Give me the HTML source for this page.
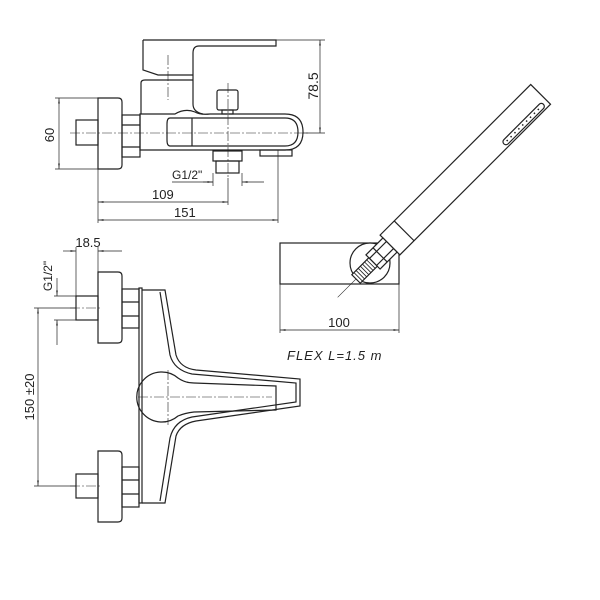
<!DOCTYPE html>
<html><head><style>html,body{margin:0;padding:0;background:#fff}svg{display:block}</style></head>
<body>
<svg width="600" height="600" viewBox="0 0 600 600" xmlns="http://www.w3.org/2000/svg" font-family="Liberation Sans, sans-serif">
<defs>
<marker id="a" viewBox="0 0 10 6" refX="10" refY="3" markerWidth="8" markerHeight="5" orient="auto-start-reverse"><path d="M0,1.5 L10,3 L0,4.5z" fill="#222"/></marker>
</defs>
<g fill="none" stroke="#222" stroke-width="1.2">
<path d="M98,98 H118 Q122,98 122,102 V165 Q122,169 118,169 H98 Z"/>
<rect x="76" y="120" width="22" height="25"/>
<rect x="122" y="115" width="18" height="42"/>
<line x1="122" y1="125" x2="140" y2="125"/><line x1="122" y1="147" x2="140" y2="147"/>
<path d="M143,40 H276 V46 H199 Q193,46 193,53 V104 Q193,112 203,114"/>
<path d="M143,40 V70 L158,75 H193"/>
<path d="M141,114 V83 Q141,80 145,80 H193"/>
<path d="M140,114 H175 Q185,108 195,112 Q200,115 210,114 H285 Q303,114 303,132 Q303,150 285,150 H140 Z"/>
<path d="M170,118 H285 Q298,118 298,132 Q298,146 285,146 H170 Q167,146 167,140 V124 Q167,118 170,118"/>
<line x1="192" y1="118" x2="192" y2="146"/>
<rect x="217" y="90" width="21" height="20" rx="2"/>
<rect x="222" y="110" width="11" height="4"/>
<rect x="213" y="151" width="29" height="10"/><rect x="216" y="161" width="23" height="12"/>
<rect x="260" y="150" width="32" height="6"/>
<g stroke-width="0.6" stroke-dasharray="10,2,2,2">
<line x1="168" y1="55" x2="168" y2="100"/><line x1="228" y1="83" x2="228" y2="178"/>
<line x1="70" y1="133" x2="310" y2="133"/>
</g>
<g stroke-width="0.7">
<line x1="59" y1="98" x2="59" y2="169" marker-start="url(#a)" marker-end="url(#a)"/>
<line x1="55" y1="98" x2="98" y2="98"/><line x1="55" y1="169" x2="98" y2="169"/>
<line x1="320" y1="40" x2="320" y2="133" marker-start="url(#a)" marker-end="url(#a)"/>
<line x1="276" y1="40" x2="325" y2="40"/><line x1="303" y1="133" x2="325" y2="133"/>
<line x1="203" y1="182" x2="213" y2="182" marker-end="url(#a)"/><line x1="242" y1="182" x2="264" y2="182" marker-start="url(#a)"/>
<line x1="172" y1="182" x2="213" y2="182"/>
<line x1="213" y1="173" x2="213" y2="186"/><line x1="242" y1="173" x2="242" y2="186"/>
<line x1="98" y1="202" x2="228" y2="202" marker-start="url(#a)" marker-end="url(#a)"/>
<line x1="98" y1="220" x2="278" y2="220" marker-start="url(#a)" marker-end="url(#a)"/>
<line x1="98" y1="169" x2="98" y2="223"/><line x1="228" y1="178" x2="228" y2="205"/><line x1="278" y1="150" x2="278" y2="223"/>
</g>
<path d="M98,272 H118 Q122,272 122,276 V339 Q122,343 118,343 H98 Z"/>
<rect x="76" y="296" width="22" height="24"/>
<rect x="122" y="289" width="17" height="39"/>
<line x1="122" y1="302" x2="139" y2="302"/><line x1="122" y1="316" x2="139" y2="316"/>
<path d="M98,451 H118 Q122,451 122,455 V518 Q122,522 118,522 H98 Z"/>
<rect x="76" y="474" width="22" height="24"/>
<rect x="122" y="467" width="17" height="40"/>
<line x1="122" y1="480" x2="139" y2="480"/><line x1="122" y1="494" x2="139" y2="494"/>
<rect x="139" y="288" width="3" height="215"/>
<path d="M142,290 H165 L176,355 Q180,368 196,370 L300,379 V406 L196,421 Q180,424 176,436 L165,503 H142"/>
<path d="M160,292 L170,355 Q174,370 192,374 L296,383 V402 L192,417 Q174,421 170,438 L160,501"/>
<path d="M178,378 Q185,383 194,383 L276,386 V410 L194,412 Q185,413 178,416 A25,25 0 1 1 178,378"/>
<g stroke-width="0.6" stroke-dasharray="10,2,2,2">
<line x1="138" y1="397" x2="272" y2="397"/><line x1="168" y1="370" x2="168" y2="425"/>
<line x1="70" y1="308" x2="102" y2="308"/><line x1="70" y1="486" x2="102" y2="486"/>
</g>
<g stroke-width="0.7">
<line x1="63" y1="251" x2="76" y2="251" marker-end="url(#a)"/><line x1="98" y1="251" x2="122" y2="251" marker-start="url(#a)"/>
<line x1="76" y1="247" x2="76" y2="296"/><line x1="98" y1="247" x2="98" y2="272"/>
<line x1="57" y1="278" x2="57" y2="296" marker-end="url(#a)"/><line x1="57" y1="320" x2="57" y2="345" marker-start="url(#a)"/>
<line x1="54" y1="296" x2="76" y2="296"/><line x1="54" y1="320" x2="76" y2="320"/>
<line x1="38" y1="308" x2="38" y2="486" marker-start="url(#a)" marker-end="url(#a)"/>
<line x1="34" y1="308" x2="76" y2="308"/><line x1="34" y1="486" x2="76" y2="486"/>
</g>
<rect x="280" y="243" width="119" height="41"/>
<line x1="280" y1="284" x2="280" y2="333" stroke-width="0.7"/><line x1="399" y1="284" x2="399" y2="333" stroke-width="0.7"/>
<line x1="280" y1="330" x2="399" y2="330" stroke-width="0.7" marker-start="url(#a)" marker-end="url(#a)"/>
<circle cx="370" cy="263" r="20" fill="#fff"/>
<g transform="translate(390,245) rotate(-45)">
<rect x="0" y="-14" width="213" height="28" fill="#fff"/>
<line x1="20" y1="-14" x2="20" y2="14"/>
<rect x="152" y="6" width="56" height="6" rx="3"/>
<g stroke-width="1.5" stroke-dasharray="1.5,4"><line x1="156" y1="9" x2="205" y2="9"/></g>
<rect x="-24" y="-10" width="24" height="20" fill="#fff"/>
<line x1="-14" y1="-10" x2="-14" y2="10"/><line x1="-24" y1="-5" x2="0" y2="-5"/><line x1="-24" y1="5" x2="0" y2="5"/>
<rect x="-48" y="-6" width="24" height="12" fill="#fff"/>
<g stroke-width="0.8"><line x1="-45" y1="-6" x2="-45" y2="6"/><line x1="-42" y1="-6" x2="-42" y2="6"/><line x1="-39" y1="-6" x2="-39" y2="6"/><line x1="-36" y1="-6" x2="-36" y2="6"/><line x1="-33" y1="-6" x2="-33" y2="6"/><line x1="-30" y1="-6" x2="-30" y2="6"/><line x1="-27" y1="-6" x2="-27" y2="6"/></g>
<line x1="-48" y1="0" x2="-74" y2="0" stroke-width="0.6"/>
</g>
</g>
<g fill="#222" font-size="13">
<text x="50" y="135" transform="rotate(-90 50 135)" text-anchor="middle" dy="4">60</text>
<text x="318" y="86" transform="rotate(-90 318 86)" text-anchor="middle" font-size="14">78.5</text>
<text x="172" y="179" font-size="12">G1/2"</text>
<text x="152" y="199" font-size="13">109</text>
<text x="174" y="217" font-size="13">151</text>
<text x="88" y="247" text-anchor="middle" font-size="13">18.5</text>
<text x="52" y="276" transform="rotate(-90 52 276)" text-anchor="middle" font-size="12">G1/2"</text>
<text x="34" y="397" transform="rotate(-90 34 397)" text-anchor="middle" font-size="13">150 ±20</text>
<text x="339" y="327" text-anchor="middle" font-size="13">100</text>
<text x="287" y="360" font-size="13" font-style="italic" letter-spacing="1">FLEX  L=1.5  m</text>
</g>
</svg>
</body></html>
